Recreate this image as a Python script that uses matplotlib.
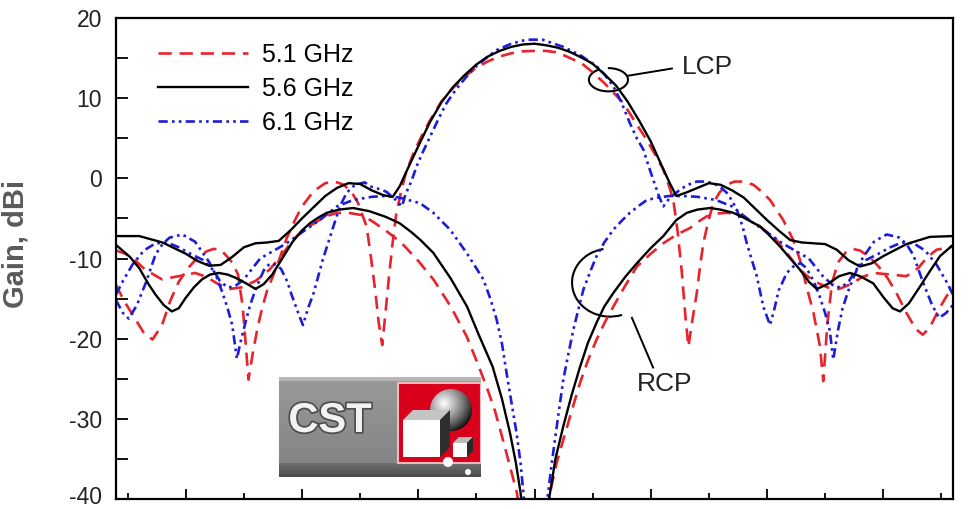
import numpy as np
import matplotlib
matplotlib.use('Agg')
import matplotlib.pyplot as plt
from matplotlib.patches import Arc, Rectangle, Polygon, Circle
from matplotlib.ticker import MultipleLocator
import matplotlib.transforms as mtransforms
import matplotlib.patheffects as pe

plt.rcParams['font.family'] = ['Liberation Sans', 'DejaVu Sans']
plt.rcParams['axes.unicode_minus'] = False

# angle (deg) / gain (dBi)
th_lcp51 = [-180, -176.5, -172, -168, -164.3, -160.2, -156.7, -153, -149, -145,
            -141, -138, -135, -132.4, -130, -127.5, -125.5, -123, -121, -119,
            -117, -115, -112.5, -110, -106.5, -103, -100, -95, -90, -86,
            -82, -78.5, -76, -72.2, -70.5, -68.5, -67, -65.5, -64, -62.5,
            -61, -59.5, -57.5, -55.5, -52, -48, -45, -40, -35, -30,
            -25, -20, -15, -10, -5, 0,
            5, 10, 15.3, 20, 23.9, 30, 38.2, 44, 48.3, 52,
            55.4, 57.5, 59.7, 61.5, 63.3, 65, 66.2, 68, 69.8, 71.2,
            72.6, 74.8, 76.9, 79.5, 82.7, 86, 90, 94.1, 97.5, 101.3,
            104, 107, 111.3, 114.2, 117, 120, 122.8, 124.2, 126, 128,
            130.5, 134, 137, 140, 144, 148, 152, 156, 160, 164,
            167, 170, 174, 177, 180]
g_lcp51 = [-13.3, -15.3, -17.4, -19.3, -20.1, -18.3, -15.3, -12.9, -11.2, -9.9,
           -9.1, -8.8, -8.9, -9.7, -10.5, -12.0, -16.0, -25.1, -21.5, -18.5,
           -16.0, -14.0, -12.2, -10.3, -7.4, -5.2, -3.5, -1.6, -0.6, -0.4,
           -0.8, -1.8, -3.0, -6.0, -9.5, -14.0, -18.0, -20.8, -16.5, -12.0,
           -8.0, -4.5, -1.8, 0.5, 3.2, 5.6, 7.2, 9.6, 11.3, 12.7,
           13.8, 14.6, 15.2, 15.6, 15.85, 15.9,
           15.9, 15.7, 15.0, 14.4, 13.5, 11.9, 9.4, 6.7, 4.8, 2.9,
           1.1, -0.6, -2.7, -6.5, -11.5, -17.5, -21.0, -17.5, -14.3, -11.0,
           -8.1, -5.3, -3.1, -1.8, -0.8, -0.4, -0.4, -0.8, -1.6, -2.7,
           -3.9, -5.2, -7.7, -10.2, -13.5, -16.8, -21.0, -25.3, -18.0, -13.0,
           -10.5, -9.2, -8.8, -9.0, -9.8, -11.0, -12.5, -14.5, -16.8, -18.8,
           -19.5, -18.6, -16.3, -14.8, -13.5]

th_lcp56 = [-180, -170, -160, -150, -145, -140, -135, -130, -125, -120, -115, -110,
            -105, -100, -95, -90, -85, -80, -75, -70, -65, -61, -58, -55, -50, -45,
            -40, -35, -30, -25, -20, -15, -10, -5, 0, 5, 10, 15, 20, 25, 30, 35, 40,
            45, 50, 55, 58, 61, 65, 70, 75, 80, 85, 90, 95, 100, 105, 110, 115, 120,
            125, 130, 135, 140, 145, 150, 160, 170, 180]
g_lcp56 = [-7.2, -7.2, -8.0, -9.4, -10.3, -10.9, -10.8, -9.8, -8.6, -8.1, -8.0, -7.8,
           -6.5, -5.0, -3.6, -2.2, -1.2, -0.6, -0.7, -1.5, -2.1, -2.3, -1.0, 0.9, 4.0, 7.0,
           9.5, 11.4, 12.9, 14.2, 15.2, 15.9, 16.4, 16.7, 16.8, 16.6, 16.3, 15.8, 15.1, 14.3,
           13.0, 11.6, 9.6, 7.2, 4.6, 1.4, -0.5, -2.2, -1.8, -1.2, -0.6, -0.8, -1.5, -2.4,
           -3.8, -5.2, -6.5, -7.7, -8.0, -8.1, -8.2, -8.9, -10.2, -11.0, -10.6, -9.7,
           -8.2, -7.3, -7.2]

th_lcp61 = [-180, -177, -174.5, -171, -167, -163, -160, -157, -151.5, -146,
            -140, -137, -134.4, -132, -130, -128, -126.5, -124.6, -122.5, -120.3,
            -118, -116, -113.5, -111, -109, -106.3, -104.5, -102, -99.6, -97.5,
            -95, -91, -86.5, -83.7, -80.8, -77.2, -73, -70.8, -66, -63.6,
            -60, -57, -55.5, -53, -50.7, -48, -44.9, -41, -37.8, -33.5,
            -29.2, -25, -20, -16.3, -10, -3.4, 0,
            3.4, 12.4, 20, 26.7, 30, 33.9, 37.5, 41, 44, 46.8,
            49, 51.1, 53.5, 55.4, 58, 62.6, 66, 69.8, 73, 76.9,
            80, 82.7, 85, 87, 89.5, 91.3, 93.5, 95.6, 98.4, 101.3,
            103, 105, 108.5, 112, 114.5, 117, 120, 122.5, 125, 127,
            128.5, 130.5, 132.5, 135, 138, 141, 146, 151.5, 157, 160,
            163, 167, 171, 174, 177, 180]
g_lcp61 = [-15.2, -16.8, -17.5, -15.8, -12.9, -9.5, -8.2, -7.4, -7.0, -7.9,
           -10.4, -12.1, -14.1, -16.2, -18.3, -22.5, -20.5, -18.3, -16.0, -14.1,
           -12.5, -11.2, -10.6, -10.8, -11.3, -12.9, -14.5, -16.5, -18.3, -16.3,
           -14.3, -10.1, -6.0, -3.5, -1.8, -0.8, -0.5, -1.0, -1.4, -1.7,
           -2.6, -3.5, -2.0, -0.4, 1.5, 3.3, 5.2, 7.6, 9.4, 11.2,
           12.7, 14.0, 15.2, 16.0, 16.8, 17.3, 17.3,
           17.3, 16.4, 15.3, 14.0, 13.0, 11.5, 9.4, 6.9, 5.0, 3.6,
           1.6, -0.2, -2.2, -3.5, -2.5, -1.4, -0.8, -0.4, -0.4, -0.6,
           -1.1, -1.8, -2.8, -3.9, -6.0, -8.1, -10.2, -12.2, -16.0, -18.3,
           -16.5, -14.0, -11.8, -10.8, -10.6, -11.2, -12.8, -14.6, -16.8, -19.0,
           -22.6, -19.0, -16.2, -14.0, -11.8, -10.0, -7.9, -7.0, -7.4, -8.2,
           -9.6, -12.9, -15.8, -17.4, -16.8, -15.8]

th_rcp51 = [-180, -176, -173, -167.4, -160.2, -153, -146, -141, -136, -131,
            -126, -120, -114, -109, -104, -100, -97, -90, -85, -80,
            -74, -69, -63.6, -60, -56.4, -50, -43.5, -36, -29.2, -25,
            -20.6, -17, -13.6, -10.5, -7.6, -6, 0,
            5.5, 6.7, 9.5, 12.4, 16, 19.6, 23, 26.7, 30, 33.9,
            39, 44, 50, 55.4, 61.2, 66.9, 70, 74, 78, 82.7,
            86, 89.8, 93, 97, 100, 104, 109, 114, 120, 126,
            131, 136, 141, 146, 153, 160, 165, 169, 173, 180]
g_rcp51 = [-9.0, -9.4, -9.9, -11.4, -12.6, -12.2, -11.8, -12.3, -13.2, -13.8,
           -13.6, -12.8, -11.4, -9.7, -7.7, -6.6, -6.0, -4.75, -4.3, -4.3,
           -4.6, -5.5, -6.6, -7.4, -8.3, -10.3, -12.6, -16.0, -19.7, -22.7,
           -26.0, -29.0, -32.6, -36.0, -39.2, -42.0, -60.0,
           -42.0, -39.2, -35.5, -32.6, -29.0, -25.5, -22.7, -20.1, -18.1, -16.0,
           -13.4, -11.0, -9.4, -8.1, -7.0, -6.2, -5.5, -4.75, -4.4, -4.3,
           -4.4, -4.75, -5.3, -6.0, -6.7, -7.65, -9.5, -11.4, -12.8, -13.6,
           -13.8, -13.2, -12.3, -11.8, -12.0, -12.2, -11.2, -9.8, -8.9, -8.5]

th_rcp56 = [-180, -174, -170, -166, -163, -159.5, -156, -153, -150, -146.5,
            -143, -139.5, -135.8, -132, -128.6, -124, -120, -116.5, -112.8, -108.5,
            -104, -100, -96.6, -93, -89.4, -84, -78, -71, -64, -58,
            -53, -49, -43.5, -36, -29, -24, -18, -14, -10.5, -8,
            -6, -5, 0,
            5, 6.7, 9, 12.4, 16, 19.6, 23, 26.7, 30, 33.9,
            39, 44, 50, 55.4, 61, 65.5, 70, 75.5, 80, 85.5,
            90, 97, 101, 105.6, 110, 114.2, 118, 121.4, 126, 131,
            135.7, 140, 145.7, 150, 154, 157.2, 161, 165.8, 170, 174.4, 180]
g_rcp56 = [-8.3, -9.8, -11.2, -13.2, -14.5, -15.8, -16.6, -16.2, -14.9, -13.6,
           -12.6, -12.0, -11.8, -12.0, -12.4, -13.1, -13.8, -13.2, -12.0, -10.0,
           -7.9, -6.5, -5.6, -4.9, -4.3, -3.9, -3.7, -4.1, -4.8, -5.6,
           -6.7, -7.7, -9.3, -12.5, -16.0, -19.5, -23.5, -27.5, -31.8, -35.5,
           -39.2, -42.0, -60.0,
           -42.0, -39.2, -35.0, -30.9, -27.0, -23.5, -20.5, -18.0, -16.0, -14.3,
           -12.3, -10.6, -8.7, -7.2, -5.2, -4.3, -3.9, -3.7, -3.9, -4.3,
           -4.9, -6.0, -7.1, -8.5, -10.0, -11.4, -12.9, -13.8, -13.2, -12.2,
           -11.8, -12.2, -13.1, -14.8, -16.2, -16.6, -15.6, -13.5, -11.6, -9.7, -8.3]

th_rcp61 = [-180, -177, -173, -168, -163, -158, -153, -148, -142.5, -138,
            -135.3, -132, -129, -125, -118, -112, -106.6, -99.4, -92.3, -85,
            -78, -70, -64, -58, -53, -49.2, -43.5, -36.3, -29.2, -22,
            -19, -16.3, -14, -12, -10, -7.7, -6, -4.8, -4, 0,
            4.5, 5.9, 7.2, 8.8, 10.5, 12.4, 14.5, 16.7, 19, 21,
            24, 26.7, 30, 33.9, 37.5, 41, 45, 48.3, 53, 58,
            64, 70, 78, 85, 92.3, 99.4, 106.6, 112, 118, 124,
            129, 132, 135.3, 138, 142.5, 148, 153, 158, 163, 168,
            173, 177, 180]
g_rcp61 = [-14.5, -12.8, -10.8, -9.0, -8.1, -8.0, -8.6, -9.4, -10.2, -11.5,
           -12.8, -13.6, -13.5, -12.6, -10.0, -9.0, -8.1, -6.6, -5.2, -3.5,
           -2.7, -2.3, -2.2, -2.4, -2.8, -3.1, -4.3, -6.4, -9.3, -12.6,
           -15.0, -17.6, -20.6, -24.3, -27.8, -31.8, -35.5, -39.2, -42.0, -60.0,
           -42.0, -39.2, -36.0, -32.6, -29.0, -25.1, -22.0, -18.9, -16.2, -13.9,
           -11.6, -9.7, -8.0, -6.4, -5.3, -4.3, -3.4, -2.7, -2.4, -2.2,
           -2.2, -2.3, -2.7, -3.5, -5.2, -6.6, -8.1, -9.0, -10.0, -12.2,
           -13.5, -13.6, -12.8, -11.5, -10.2, -9.4, -8.6, -8.0, -8.1, -9.0,
           -10.8, -12.8, -14.5]

freq_labels = ['5.1 GHz', '5.6 GHz', '6.1 GHz']

red = '#e8232b'
blue = '#1d1dd8'
dash_red = (0, (5, 3))
dash_blue = (0, (3.5, 1.6, 1, 1.6, 1, 1.6))

fig = plt.figure(figsize=(9.69, 5.09), dpi=100)
ax = fig.add_axes([0.1197, 0.0196, 0.8638, 0.945])

lw = 1.9
h1, = ax.plot(th_lcp51, g_lcp51, color=red, ls=dash_red, lw=lw, label=freq_labels[0])
ax.plot(th_rcp51, g_rcp51, color=red, ls=dash_red, lw=lw)
h3, = ax.plot(th_lcp61, g_lcp61, color=blue, ls=dash_blue, lw=lw, label=freq_labels[2])
ax.plot(th_rcp61, g_rcp61, color=blue, ls=dash_blue, lw=lw)
h2, = ax.plot(th_lcp56, g_lcp56, color='black', lw=1.7, label=freq_labels[1])
ax.plot(th_rcp56, g_rcp56, color='black', lw=1.7)

ax.set_xlim(-180, 180)
ax.set_ylim(-40, 20)
ax.xaxis.set_major_locator(MultipleLocator(50))
ax.xaxis.set_minor_locator(MultipleLocator(25))
ax.yaxis.set_major_locator(MultipleLocator(10))
ax.yaxis.set_minor_locator(MultipleLocator(5))
ax.tick_params(axis='x', which='major', direction='in', length=7.5, width=1.3,
               labelbottom=False, top=False)
ax.tick_params(axis='x', which='minor', direction='in', length=4, width=1.3, top=False)
ax.tick_params(axis='y', which='both', direction='in', length=8.5, width=1.3,
               right=False, labelsize=16.5, labelcolor='#222222', pad=10)
for s in ax.spines.values():
    s.set_linewidth(1.6)

# lift the bottom tick label a touch so it stays inside the canvas
fig.canvas.draw()
for lab in ax.get_yticklabels():
    if lab.get_text() == '-40':
        lab.set_transform(lab.get_transform() +
                          mtransforms.ScaledTranslation(0, 3 / 72, fig.dpi_scale_trans))

ax.set_ylabel('Gain, dBi', fontsize=21, fontweight='bold', color='#5a5a5a')
ax.yaxis.set_label_coords(-0.103, 0.53)

ax.legend(handles=[h1, h2, h3], loc='upper left', bbox_to_anchor=(0.05, 0.948),
          frameon=False, fontsize=18, handlelength=3.6, handletextpad=0.55,
          labelspacing=0.4, borderpad=0, borderaxespad=0)

# LCP / RCP callouts
ax.add_patch(Arc((31.8, 12.3), 16.8, 2.9, theta1=160, theta2=460, color='black', lw=1.5))
ax.plot([40.2, 59.1], [12.8, 13.7], color='black', lw=1.4)
ax.text(63.4, 13.85, 'LCP', fontsize=19, va='center', ha='left', color='#222222')

ax.add_patch(Arc((32.5, -13.0), 32.7, 8.5, theta1=124, theta2=322, color='black', lw=1.5))
ax.plot([41.9, 51.0], [-17.4, -23.6], color='black', lw=1.4)
ax.text(56.1, -25.6, 'RCP', fontsize=19, va='center', ha='center', color='#222222')

# CST logo
lax = fig.add_axes([279 / 969, 1 - 477 / 509, 202 / 969, 100 / 509])
lax.set_xlim(0, 202)
lax.set_ylim(0, 100)
lax.axis('off')
yy = np.linspace(0, 100, 200)
col = np.zeros((200, 1, 3))
for i, y in enumerate(yy):
    if y > 96:
        v = 0.72
    elif y > 14:
        v = 0.52 + 0.08 * (y - 14) / 82
    else:
        v = 0.30 + 0.14 * y / 14
    col[i, 0, :] = v
lax.imshow(col, extent=(0, 202, 0, 100), origin='lower', aspect='auto')
lax.text(51, 56, 'CST', color='#f2f2f2', fontsize=30, fontweight='bold',
         ha='center', va='center',
         path_effects=[pe.withStroke(linewidth=2.5, foreground='#4d4d4d')])
lax.add_patch(Rectangle((119, 14), 83, 80, fc='#d8001b', ec='#f3b9b9', lw=1.5))
# shaded sphere
sx, sy, sr = 172, 67, 21
gx, gy = np.meshgrid(np.linspace(sx - sr, sx + sr, 80), np.linspace(sy - sr, sy + sr, 80))
d = np.hypot(gx - (sx - 7), gy - (sy + 7)) / (1.5 * sr)
shade = np.clip(1.0 - d, 0, 1) ** 0.8
sphere = lax.imshow(shade, extent=(sx - sr, sx + sr, sy - sr, sy + sr), origin='lower',
                    cmap='gray', vmin=0, vmax=1, aspect='auto', zorder=3)
clip = Circle((sx, sy), sr, transform=lax.transData)
sphere.set_clip_path(clip)
# big cube
lax.add_patch(Polygon([(124, 57), (134, 67), (171, 67), (161, 57)], fc='#c4c4c4', ec='none', zorder=4))
lax.add_patch(Polygon([(161, 20), (171, 30), (171, 67), (161, 57)], fc='#2e2e2e', ec='none', zorder=4))
lax.add_patch(Rectangle((124, 20), 37, 37, fc='white', ec='none', zorder=4))
# small cube
lax.add_patch(Polygon([(174, 34), (180, 40), (194, 40), (188, 34)], fc='#bdbdbd', ec='none', zorder=4))
lax.add_patch(Polygon([(188, 20), (194, 26), (194, 40), (188, 34)], fc='#2a2a2a', ec='none', zorder=4))
lax.add_patch(Rectangle((174, 20), 14, 14, fc='white', ec='none', zorder=4))
lax.add_patch(Circle((169, 15), 5, fc='white', ec='none', zorder=5))
lax.add_patch(Circle((189, 5), 3, fc='white', ec='none', zorder=5))

fig.savefig('out.png', dpi=100)
